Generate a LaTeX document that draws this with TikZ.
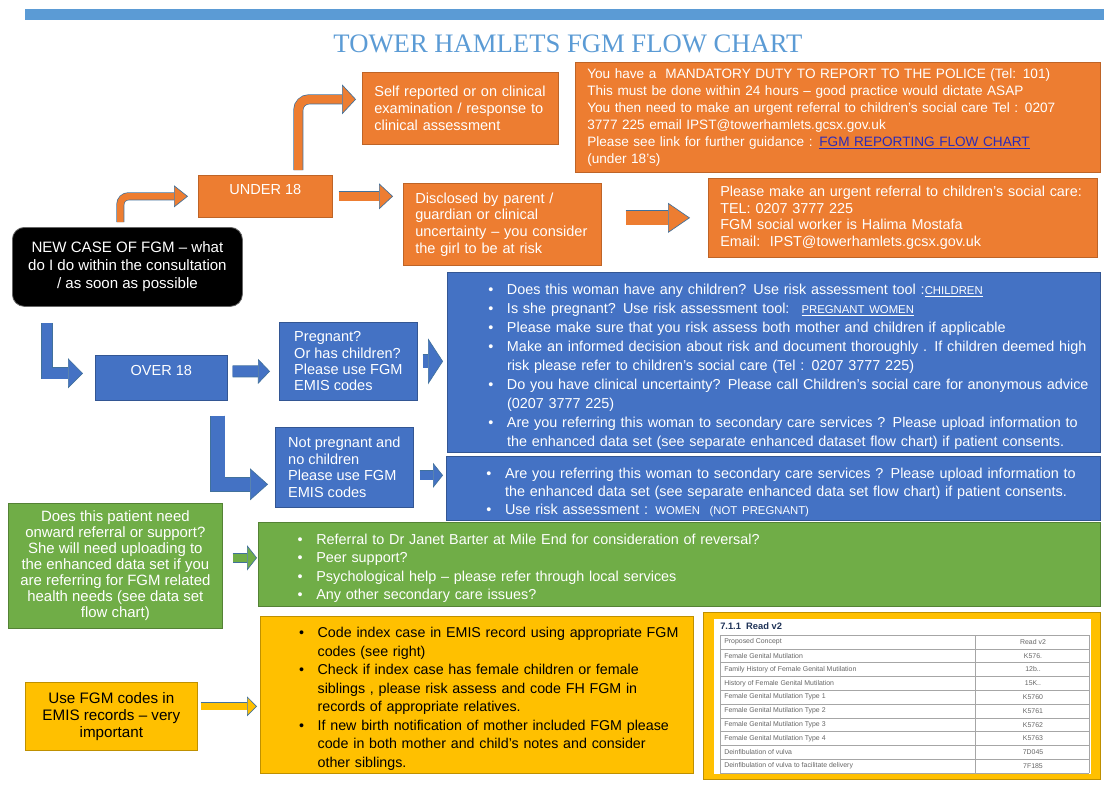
\documentclass[tikz,border=0pt]{standalone}
\usepackage{fontspec}
\setmainfont{Liberation Sans}
\newfontfamily\titlefont{Liberation Serif}
\usetikzlibrary{arrows.meta}

\definecolor{fgmorange}{HTML}{ED7D31}
\definecolor{fgmblue}{HTML}{4472C4}
\definecolor{fgmgreen}{HTML}{70AD47}
\definecolor{fgmyellow}{HTML}{FFC000}
\definecolor{titleblue}{HTML}{5B9BD5}
\definecolor{edgeblue}{HTML}{41719C}
\definecolor{linkblue}{HTML}{2B2BB8}
\definecolor{gridgrey}{HTML}{A6A6A6}

% one bullet paragraph, optional left pad
\newcommand{\bul}[1][20pt]{\par\leftskip=#1\hangindent=14pt\hangafter=1\noindent\makebox[14pt][l]{\textbullet}}
\newcommand{\capsmall}[1]{{\fontsize{8.5}{10}\selectfont #1}}

\tikzset{
  box/.style={rectangle, anchor=north west, inner xsep=9pt, inner ysep=0pt,
    text=white, font=\fontsize{10.9}{12.5}\selectfont},
  obox/.style={box, fill=fgmorange, draw=fgmorange!80!black, line width=0.5pt},
  bbox/.style={box, fill=fgmblue, draw=fgmblue!75!black, line width=0.5pt},
  gbox/.style={box, fill=fgmgreen, draw=fgmgreen!75!black, line width=0.5pt},
  ybox/.style={box, fill=fgmyellow, draw=fgmyellow!75!black, line width=0.5pt, text=black},
  kbox/.style={box, fill=black, draw=black!60, line width=0.6pt, rounded corners=9pt},
  blockarrow/.style n args={4}{draw=edgeblue, line width=0.5pt, double=#1, double distance=#2,
    -{Triangle[length=#4, width=#3, line width=0.5pt, color=edgeblue, fill=#1]}},
  cell/.style={font=\fontsize{5.2}{6}\selectfont, text=black!60, inner sep=0pt},
  grid/.style={draw=gridgrey, line width=0.4pt}
}

\begin{document}
\begin{tikzpicture}[x=0.75pt, y=-0.75pt]
\path[use as bounding box, fill=white] (0,0) rectangle (1104,794);

%% heading
\fill[titleblue] (25,9) rectangle (1104,20);
\node[font=\titlefont\fontsize{20}{22}\selectfont, text=titleblue] (title) at (568,44) {TOWER HAMLETS FGM FLOW CHART};

%% start and under 18 branch
\node[kbox, minimum width=172.5pt, minimum height=59.25pt, align=center, font=\fontsize{11.3}{13.5}\selectfont] (new) at (12,227)
  {NEW CASE OF FGM – what\\do I do within the consultation\\/ as soon as possible};
\node[obox, minimum width=100.5pt, minimum height=31.5pt, text height=14.25pt, text depth=17.25pt] (u18) at (198,175) {UNDER 18};
\node[obox, minimum width=147pt, minimum height=54pt, text width=129pt, align=left] (self) at (362,72)
  {Self reported or on clinical\\examination / response to\\clinical assessment};
\node[obox, minimum width=393.75pt, minimum height=82.5pt, text width=375.75pt, align=left, font=\fontsize{10.2}{12.75}\selectfont] (duty) at (575,62)
  {You have a \ MANDATORY DUTY TO REPORT TO THE POLICE (Tel: 101)\\
   This must be done within 24 hours – good practice would dictate ASAP\\
   You then need to make an urgent referral to children's social care Tel : 0207\\
   3777 225 email IPST@towerhamlets.gcsx.gov.uk\\
   Please see link for further guidance : \textcolor{linkblue}{\underline{FGM REPORTING FLOW CHART}}\\
   (under 18's)};
\node[obox, minimum width=148.5pt, minimum height=61.5pt, text width=130.5pt, align=left] (disc) at (403,183)
  {Disclosed by parent /\\guardian or clinical\\uncertainty – you consider\\the girl to be at risk};
\node[obox, minimum width=291.75pt, minimum height=59.25pt, text width=273.75pt, align=left, font=\fontsize{10.8}{12.5}\selectfont] (refer) at (708,178)
  {Please make an urgent referral to children's social care:\\TEL: 0207 3777 225\\
   FGM social worker is Halima Mostafa\\Email:\ \ IPST@towerhamlets.gcsx.gov.uk};

%% over 18 branch
\node[bbox, minimum width=99pt, minimum height=33.75pt, text height=15pt, text depth=18.75pt] (o18) at (95,355) {OVER 18};
\node[bbox, minimum width=103.5pt, minimum height=58.5pt, align=left, font=\fontsize{10.9}{12.25}\selectfont] (preg) at (279,322)
  {Pregnant?\\Or has children?\\Please use FGM\\EMIS codes};
\node[bbox, minimum width=103.5pt, minimum height=60pt, align=left, font=\fontsize{10.9}{12.5}\selectfont] (notpreg) at (275,427)
  {Not pregnant and\\no children\\Please use FGM\\EMIS codes};
\node[bbox, inner xsep=4pt, minimum width=489.75pt, minimum height=135pt, text width=481.75pt, align=left, font=\fontsize{10.8}{14.25}\selectfont] (risk) at (447,272)
  {\bul[26.75pt]Does this woman have any children? Use risk assessment tool :\underline{\capsmall{CHILDREN}}
   \bul[26.75pt]Is she pregnant? Use risk assessment tool: \ \underline{\capsmall{PREGNANT WOMEN}}
   \bul[26.75pt]Please make sure that you risk assess both mother and children if applicable
   \bul[26.75pt]Make an informed decision about risk and document thoroughly . If children deemed high\newline
     risk please refer to children's social care (Tel : 0207 3777 225)
   \bul[26.75pt]Do you have clinical uncertainty? Please call Children's social care for anonymous advice\newline
     (0207 3777 225)
   \bul[26.75pt]Are you referring this woman to secondary care services ? Please upload information to\newline
     the enhanced data set (see separate enhanced dataset flow chart) if patient consents.\par};
\node[bbox, inner xsep=4pt, minimum width=490.5pt, minimum height=48pt, text width=482.5pt, align=left, font=\fontsize{10.8}{13.75}\selectfont] (womenrisk) at (446,456)
  {\bul[26pt]Are you referring this woman to secondary care services ? Please upload information to\newline
     the enhanced data set (see separate enhanced data set flow chart) if patient consents.
   \bul[26pt]Use risk assessment : \capsmall{WOMEN \ (NOT PREGNANT)}\par};

%% onward referral
\node[gbox, minimum width=160.5pt, minimum height=93.75pt, align=center, font=\fontsize{11.2}{12}\selectfont] (onward) at (8,503)
  {Does this patient need\\onward referral or support?\\She will need uploading to\\the enhanced data set if you\\
   are referring for FGM related\\health needs (see data set\\flow chart)};
\node[gbox, inner xsep=4pt, minimum width=631.5pt, minimum height=63pt, text width=623.5pt, align=left, font=\fontsize{10.8}{13.7}\selectfont] (support) at (258,522)
  {\bul[25.5pt]Referral to Dr Janet Barter at Mile End for consideration of reversal?
   \bul[25.5pt]Peer support?
   \bul[25.5pt]Psychological help – please refer through local services
   \bul[25.5pt]Any other secondary care issues?\par};

%% coding
\node[ybox, minimum width=129pt, minimum height=51pt, align=center, font=\fontsize{11.4}{12.75}\selectfont] (usecodes) at (25,682)
  {Use FGM codes in\\EMIS records – very\\important};
\node[ybox, inner xsep=4pt, minimum width=324.75pt, minimum height=117.75pt, text width=316.75pt, align=left, font=\fontsize{10.7}{13.9}\selectfont] (coding) at (260,616)
  {\bul[25pt]Code index case in EMIS record using appropriate FGM\newline codes (see right)
   \bul[25pt]Check if index case has female children or female\newline siblings , please risk assess and code FH FGM in\newline
     records of appropriate relatives.
   \bul[25pt]If new birth notification of mother included FGM please\newline code in both mother and child's notes and consider\newline
     other siblings.\par};

%% read v2 codes
\node[ybox, minimum width=297.75pt, minimum height=125.25pt] (codes) at (703,612) {};
\fill[white] (714,619) rectangle (1091,774);
\node[anchor=west, inner sep=0pt, font=\bfseries\fontsize{7}{8}\selectfont, text=fgmblue!45!black] (readv2) at (720,626) {7.1.1\ \ Read v2};
\foreach \concept/\code [count=\i] in {
  Proposed Concept/Read v2, Female Genital Mutilation/K576.,
  Family History of Female Genital Mutilation/12b.., History of Female Genital Mutilation/15K..,
  Female Genital Mutilation Type 1/K5760, Female Genital Mutilation Type 2/K5761,
  Female Genital Mutilation Type 3/K5762, Female Genital Mutilation Type 4/K5763,
  Deinfibulation of vulva/7D045, Deinfibulation of vulva to facilitate delivery/7F185}
{
  \node[cell, anchor=west] (con\i) at (724, 628.1+13.8*\i) {\concept};
  \node[cell] (rc\i) at (1033, 628.1+13.8*\i) {\code};
}
\foreach \i in {0,...,10}
  \draw[grid] (720, 635+13.8*\i) -- (1089, 635+13.8*\i);
\foreach \x in {720, 975, 1089}
  \draw[grid] (\x,635) -- (\x,773);

%% arrows
\draw[blockarrow={fgmorange}{5pt}{16.5pt}{10.5pt}, rounded corners=6pt, shorten <=3.75pt, shorten >=7.5pt]
  ([xshift=-5.25pt]new.north) |- (u18.west);
\draw[blockarrow={fgmorange}{6.5pt}{22.5pt}{10.5pt}, rounded corners=8pt, shorten <=3.75pt, shorten >=4.5pt]
  ([xshift=24.75pt]u18.north) |- ([yshift=6.75pt]self.west);
\draw[blockarrow={fgmorange}{6.5pt}{19.5pt}{10.5pt}, shorten <=4.5pt, shorten >=7.5pt]
  (u18.east) -- (u18.east -| disc.west);
\draw[blockarrow={fgmorange}{10.25pt}{22.5pt}{16.5pt}, shorten <=18pt, shorten >=13.5pt]
  (disc.east |- refer.west) -- (refer.west);
\draw[blockarrow={fgmblue}{8pt}{22.5pt}{11.25pt}, shorten <=12pt, shorten >=9pt]
  ([xshift=26.25pt]new.south west) |- ([yshift=3.4pt]o18.west);
\draw[blockarrow={fgmblue}{8pt}{18.75pt}{9pt}, shorten <=3.75pt, shorten >=6.75pt]
  ([yshift=4.9pt]o18.east) -- ([yshift=-7.5pt]preg.west);
\draw[blockarrow={fgmblue}{9.5pt}{34.5pt}{11.25pt}, shorten <=3.75pt, shorten >=3pt]
  (preg.east) -- (preg.east -| risk.west);
\draw[blockarrow={fgmblue}{10.25pt}{24pt}{13.5pt}, shorten <=11.25pt, shorten >=5.25pt]
  ([xshift=-7.5pt]o18.south east) |- ([yshift=-12.75pt]notpreg.west);
\draw[blockarrow={fgmblue}{6.5pt}{18.75pt}{7.5pt}, shorten <=4.5pt, shorten >=2.25pt]
  ([yshift=-6pt]notpreg.east) -- ([yshift=9.75pt]womenrisk.west);
\draw[blockarrow={fgmgreen}{6.5pt}{19pt}{7.5pt}, shorten <=7.5pt, shorten >=0.75pt]
  ([yshift=6pt]onward.east) -- ([yshift=4.875pt]support.west);
\draw[blockarrow={fgmyellow}{5pt}{15pt}{7.5pt}, shorten <=2.25pt, shorten >=2.25pt]
  ([yshift=7.5pt]usecodes.east) -- ([yshift=-8.625pt]coding.west);
\end{tikzpicture}
\end{document}
